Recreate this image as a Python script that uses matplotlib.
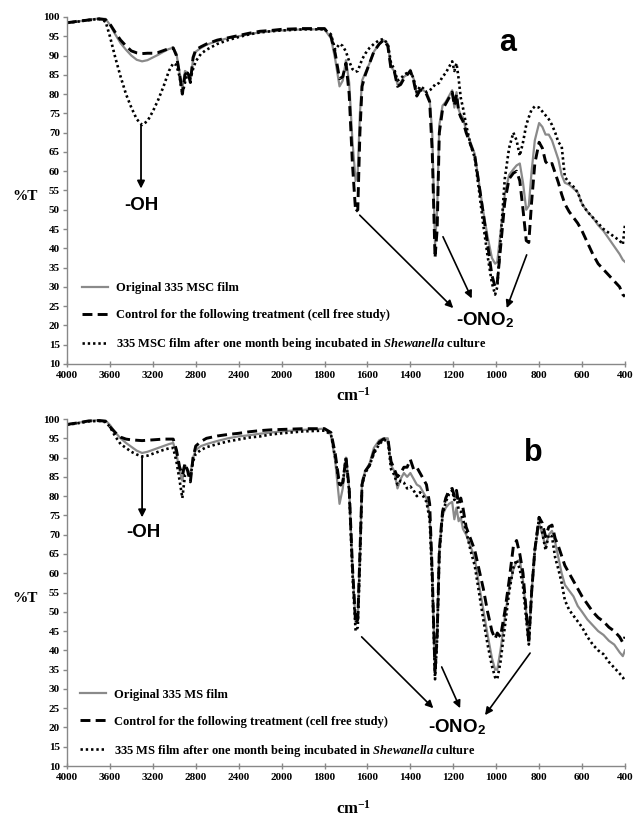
import matplotlib
matplotlib.use("Agg")

import numpy as np
import matplotlib.pyplot as plt
from matplotlib.ticker import NullLocator

plt.rcParams["font.family"] = ["Liberation Serif", "DejaVu Serif"]
plt.rcParams["font.weight"] = "bold"
plt.rcParams["mathtext.fontset"] = "custom"
plt.rcParams["mathtext.rm"] = "Liberation Serif:bold"
plt.rcParams["mathtext.it"] = "Liberation Serif:italic:bold"
plt.rcParams["mathtext.sf"] = "Liberation Sans:bold"

# ---- DATA (wavenumber grid, cm-1) ----
wn = [4000, 3900, 3800, 3700, 3640, 3600, 3550, 3500, 3450, 3400,
      3350, 3300, 3250, 3200, 3150, 3100, 3050, 3010, 2980, 2950,
      2925, 2900, 2875, 2850, 2825, 2800, 2750, 2700, 2600, 2500,
      2400, 2300, 2200, 2100, 2000, 1900, 1800, 1770, 1750, 1730,
      1715, 1700, 1685, 1670, 1655, 1645, 1635, 1625, 1610, 1590,
      1570, 1545, 1525, 1505, 1490, 1475, 1460, 1445, 1430, 1415,
      1400, 1385, 1370, 1355, 1340, 1325, 1310, 1298, 1285, 1275,
      1265, 1250, 1235, 1220, 1205, 1195, 1185, 1175, 1165, 1155,
      1140, 1120, 1100, 1080, 1060, 1040, 1020, 1005, 995, 980,
      960, 940, 920, 905, 890, 875, 860, 848, 835, 820,
      800, 785, 770, 755, 740, 725, 710, 695, 680, 660,
      640, 620, 600, 575, 550, 525, 500, 475, 450, 425,
      410, 400]

# panel a: 335 MSC
a_orig = [98.4, 98.8, 99.3, 99.6, 99.5, 98.0, 95.5, 93.2, 91.5, 90.0,
          88.9, 88.5, 88.8, 89.5, 90.2, 91.0, 91.7, 92.0, 90.5, 85.5,
          81.5, 86.0, 85.5, 83.5, 89.0, 91.0, 92.0, 92.8, 93.8, 94.5,
          95.0, 95.6, 96.0, 96.3, 96.5, 96.8, 96.8, 94.5, 89.0, 82.0,
          83.5, 88.8, 83.0, 68.0, 57.5, 60.0, 75.0, 83.5, 85.5, 88.0,
          91.0, 93.0, 94.0, 93.0, 87.0, 86.0, 82.5, 83.0, 84.5, 85.0,
          86.3, 84.0, 79.5, 81.5, 81.0, 80.5, 78.5, 70.0, 41.0, 50.0,
          72.0, 77.0, 78.0, 79.5, 81.0, 76.5, 80.5, 76.0, 74.5, 74.0,
          70.5, 67.5, 64.5, 57.0, 49.5, 43.0, 37.5, 36.0, 36.5, 44.0,
          54.0, 59.0, 60.5, 61.5, 62.0, 57.0, 50.0, 51.0, 60.0, 68.0,
          72.5, 71.5, 69.5, 69.5, 68.0, 65.5, 63.0, 59.0, 57.0, 56.5,
          55.5, 54.5, 51.5, 49.5, 48.0, 46.0, 44.5, 42.5, 40.5, 38.5,
          37.0, 36.5]
a_ctrl = [98.5, 98.9, 99.2, 99.5, 99.3, 98.2, 96.0, 94.0, 92.5, 91.2,
          90.7, 90.5, 90.6, 90.6, 90.8, 91.3, 91.8, 92.0, 90.0, 85.0,
          80.0, 85.0, 86.0, 83.0, 89.5, 91.5, 92.3, 93.0, 94.0, 94.6,
          95.2, 95.8, 96.3, 96.5, 96.8, 97.0, 97.0, 95.0, 90.5, 84.0,
          84.5, 88.0, 80.0, 62.0, 49.5, 50.0, 70.0, 82.0, 85.0, 88.0,
          91.0, 93.0, 94.0, 92.5, 86.5, 86.0, 82.0, 82.5, 84.0, 85.0,
          86.0, 83.5, 79.5, 81.0, 81.0, 80.0, 78.0, 65.0, 37.5, 45.0,
          70.0, 76.0, 77.5, 79.0, 80.5, 77.0, 80.0, 75.5, 74.0, 73.0,
          70.0, 67.0, 64.0, 56.5, 49.0, 41.0, 33.0, 30.0, 31.0, 40.0,
          52.0, 58.0, 59.5, 60.0, 57.5, 50.0, 42.0, 41.5, 52.0, 62.0,
          67.5, 66.0, 62.5, 61.5, 62.0, 59.5, 57.0, 54.0, 51.5, 49.5,
          48.0, 46.5, 44.5, 41.5, 38.5, 36.0, 34.5, 33.0, 31.5, 30.0,
          28.0, 27.5]
a_shew = [98.5, 98.8, 99.2, 99.5, 98.8, 95.0, 89.5, 84.5, 80.0, 76.5,
          73.5, 72.0, 73.0, 75.5, 78.5, 82.0, 86.0, 88.0, 87.5, 84.5,
          80.0, 83.0, 85.5, 84.0, 86.5, 88.5, 90.5, 91.5, 93.0, 94.0,
          94.8, 95.5, 96.0, 96.3, 96.5, 96.8, 96.8, 95.5, 91.5, 93.0,
          92.5, 91.0, 88.5, 86.5, 85.8, 86.0, 87.5, 89.0, 90.5, 92.0,
          93.0, 94.0, 94.3, 93.0, 88.0, 86.5, 83.5, 84.0, 85.0, 85.5,
          86.0, 84.0, 80.5, 82.0, 81.5, 80.5, 81.0, 81.5, 82.5, 82.5,
          83.0, 84.5, 85.5, 87.0, 88.5, 86.0, 88.0, 84.0, 79.0, 76.5,
          72.0, 67.0, 63.5, 55.0, 46.0, 38.0, 31.0, 28.0, 30.0, 42.0,
          58.0, 66.0, 70.0, 68.0, 64.0, 67.5, 72.0, 74.0, 76.0, 76.8,
          76.5, 75.5, 74.5, 73.5, 72.0, 70.0, 67.5, 66.5, 58.5, 57.0,
          56.0, 54.5, 51.5, 49.5, 48.0, 46.5, 45.0, 44.0, 43.0, 42.0,
          41.0, 46.0]

# panel b: 335 MS
b_orig = [98.6, 99.0, 99.5, 99.7, 99.6, 98.5, 96.5, 95.0, 93.8, 92.8,
          91.8, 91.2, 91.5, 92.0, 92.5, 93.0, 93.5, 93.8, 91.0, 86.5,
          84.0, 88.0, 87.0, 85.5, 90.0, 92.0, 93.0, 93.5, 94.3, 95.0,
          95.5, 95.8, 96.2, 96.5, 96.8, 97.2, 97.5, 96.0, 89.0, 78.0,
          82.0, 90.0, 82.0, 62.0, 47.0, 48.0, 65.0, 84.0, 86.5, 88.5,
          92.5, 94.5, 95.0, 95.0, 88.0, 86.5, 82.0, 84.5, 86.0, 85.0,
          86.0, 84.5, 83.0, 82.5, 81.0, 79.5, 75.0, 60.0, 34.0, 45.0,
          66.0, 75.0, 77.0, 78.0, 78.5, 74.0, 77.0, 73.5, 74.5, 71.5,
          70.0, 67.0, 64.0, 57.0, 50.5, 44.0, 38.0, 35.0, 35.0, 40.0,
          48.5, 56.0, 61.0, 63.0, 63.5, 58.0, 50.0, 43.0, 55.0, 66.0,
          73.0, 70.0, 67.0, 70.0, 71.0, 68.0, 64.0, 60.0, 57.0, 55.5,
          54.0, 51.5, 50.0, 48.0, 46.5, 45.0, 44.0, 42.5, 41.5, 39.5,
          38.5, 40.0]
b_ctrl = [98.6, 99.0, 99.5, 99.6, 99.4, 98.0, 96.5, 95.3, 94.8, 94.6,
          94.5, 94.4, 94.5, 94.6, 94.7, 94.8, 94.8, 94.8, 92.0, 87.5,
          85.5, 88.5, 86.5, 83.7, 90.0, 93.0, 94.2, 95.0, 95.6, 96.0,
          96.3, 96.7, 97.0, 97.2, 97.3, 97.5, 97.5, 96.5, 91.0, 83.0,
          83.5, 90.0, 82.0, 62.0, 47.0, 48.0, 65.0, 83.0, 86.5, 88.0,
          91.5, 94.0, 94.8, 95.0, 89.0, 87.0, 85.0, 86.0, 87.5, 87.5,
          89.5, 87.0, 87.5, 86.0, 84.5, 83.0, 78.0, 60.0, 34.0, 44.0,
          66.0, 76.0, 79.5, 81.5, 82.0, 80.0, 81.5, 78.0, 79.5, 77.0,
          72.0, 69.0, 66.0, 61.0, 56.0, 50.0, 45.0, 43.0, 44.5, 43.5,
          50.0, 58.0, 67.0, 68.5, 65.0, 60.0, 50.0, 42.0, 55.0, 66.0,
          74.5, 73.0, 69.5, 72.0, 72.5, 69.0, 67.0, 64.5, 62.0, 60.0,
          58.0, 56.0, 54.0, 52.0, 50.0, 48.5, 47.5, 46.0, 45.0, 43.5,
          42.0, 43.5]
b_shew = [98.5, 98.9, 99.4, 99.5, 99.2, 98.0, 95.5, 93.5, 92.5, 91.5,
          90.8, 90.3, 90.5, 91.0, 91.5, 92.0, 92.4, 92.5, 89.0, 84.0,
          79.5, 85.5, 86.0, 85.0, 89.0, 91.0, 92.0, 92.7, 93.5, 94.2,
          94.7, 95.2, 95.5, 96.0, 96.3, 96.8, 97.0, 96.0, 90.0, 82.5,
          83.5, 90.0, 81.0, 60.0, 45.0, 46.0, 63.0, 83.0, 86.0, 88.0,
          91.0, 93.5, 94.5, 94.5, 87.0, 85.5, 83.0, 84.0, 83.5, 82.0,
          82.5, 81.5, 80.0, 81.0, 80.0, 78.5, 74.0, 58.0, 32.5, 43.0,
          65.0, 75.0, 78.5, 80.5, 81.5, 79.0, 80.0, 76.5, 76.0, 74.0,
          71.0, 66.0, 62.0, 55.0, 48.0, 41.5, 36.0, 33.0, 32.5, 37.0,
          46.0, 55.0, 61.5, 63.5, 61.0, 56.5, 48.0, 41.5, 55.0, 66.0,
          74.5, 70.5, 66.0, 70.0, 69.5, 64.0, 61.0, 57.5, 53.0, 50.5,
          49.0, 47.5, 46.0, 43.5, 41.5, 40.0, 39.0, 37.0, 35.5, 34.0,
          33.0, 32.0]

labels_a = ["Original 335 MSC film",
            "Control for the following treatment (cell free study)",
            r"335 MSC film after one month being incubated in $\mathit{Shewanella}$ culture"]
labels_b = ["Original 335 MS film",
            "Control for the following treatment (cell free study)",
            r"335 MS film after one month being incubated in $\mathit{Shewanella}$ culture"]

x_ticks = [4000, 3600, 3200, 2800, 2400, 2000, 1800, 1600, 1400, 1200, 1000, 800, 600, 400]
y_ticks = list(range(10, 101, 5))

for arr in (a_orig, a_ctrl, a_shew, b_orig, b_ctrl, b_shew):
    assert len(arr) == len(wn), len(arr)


# instrument axis: 2x expansion below 2000 cm-1
def fwd(x):
    x = np.asarray(x, dtype=float)
    return np.where(x <= 2000, x / 200.0, 10 + (x - 2000) / 400.0)


def inv(p):
    p = np.asarray(p, dtype=float)
    return np.where(p <= 10, p * 200.0, 2000 + (p - 10) * 400.0)


def draw_panel(ax, series, labels, letter, letter_pos, oh_arrow, oh_text,
               ono_pos, ono_arrows, leg_anchor, xlab_y):
    styles = [dict(color="#8a8a8a", lw=1.6, ls="-"),
              dict(color="black", lw=2.1, ls=(0, (3.4, 1.8))),
              dict(color="black", lw=1.9, ls=(0, (0.9, 1.1)))]
    for y, lab, st in zip(series, labels, styles):
        ax.plot(wn, y, label=lab, **st)

    ax.set_xscale("function", functions=(fwd, inv))
    ax.set_xlim(4000, 400)
    ax.set_ylim(10, 100)
    ax.set_xticks(x_ticks)
    ax.set_xticklabels([str(t) for t in x_ticks])
    ax.xaxis.set_minor_locator(NullLocator())
    ax.set_yticks(y_ticks)
    ax.tick_params(axis="both", labelsize=8, color="#888888", width=1)
    ax.tick_params(axis="x", direction="inout", length=4, pad=3)
    ax.tick_params(axis="y", direction="out", length=3, pad=2)
    for s in ("top", "right"):
        ax.spines[s].set_visible(False)
    for s in ("left", "bottom"):
        ax.spines[s].set_color("#888888")
        ax.spines[s].set_linewidth(1.0)

    ax.set_ylabel("%T", rotation=0, fontsize=11, fontweight="bold")
    ax.yaxis.set_label_coords(-0.075, 0.465)
    ax.set_xlabel("cm$^{-1}$", fontsize=12, fontweight="bold")
    ax.xaxis.set_label_coords(0.513, xlab_y)

    ax.text(letter_pos[0], letter_pos[1], letter, fontsize=22,
            family="Liberation Sans", fontweight="bold", ha="center", va="center")

    ax.annotate("", xy=oh_arrow[1], xytext=oh_arrow[0],
                arrowprops=dict(arrowstyle="-|>", color="black", lw=1.3,
                                mutation_scale=11, shrinkA=0, shrinkB=0))
    ax.text(oh_text[0], oh_text[1], "-OH", fontsize=13.5, family="Liberation Sans",
            fontweight="bold", ha="center", va="center")

    ax.text(ono_pos[0], ono_pos[1], r"-ONO$_\mathsf{2}$", fontsize=13.5,
            family="Liberation Sans", fontweight="bold", ha="center", va="baseline")
    for start, end in ono_arrows:
        ax.annotate("", xy=end, xytext=start,
                    arrowprops=dict(arrowstyle="-|>", color="black", lw=1.2,
                                    mutation_scale=11, shrinkA=0, shrinkB=0))

    ax.legend(loc="upper left", bbox_to_anchor=leg_anchor, frameon=False,
              fontsize=9, handlelength=2.1, handletextpad=0.6,
              labelspacing=1.2, borderpad=0, borderaxespad=0)


fig = plt.figure(figsize=(6.33, 8.17), dpi=100)
ax_a = fig.add_axes([0.1058, 0.5545, 0.8815, 0.4247])
ax_b = fig.add_axes([0.1058, 0.0624, 0.8815, 0.4247])

draw_panel(ax_a, (a_orig, a_ctrl, a_shew), labels_a, "a", (945, 93.2),
           ((3310, 72.0), (3310, 55.5)), (3310, 51.2),
           (1052, 20.1),
           [((1636, 48.6), (1200, 24.5)),
            ((1248, 43.0), (1114, 27.0)),
            ((858, 38.3), (951, 24.5))],
           (0.027, 0.236), -0.066)

draw_panel(ax_b, (b_orig, b_ctrl, b_shew), labels_b, "b", (828, 91.2),
           ((3300, 90.3), (3300, 74.5)), (3290, 70.7),
           (1184, 18.8),
           [((1627, 43.5), (1293, 25.0)),
            ((1254, 35.7), (1168, 25.0)),
            ((842, 39.3), (1052, 23.2))],
           (0.023, 0.223), -0.098)

fig.savefig("out.png", dpi=100)
